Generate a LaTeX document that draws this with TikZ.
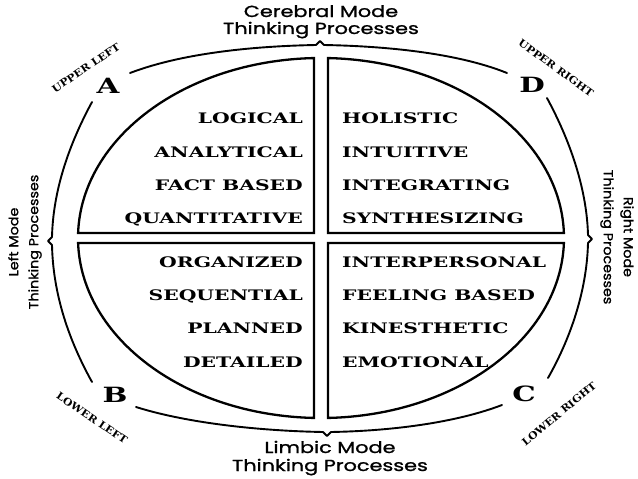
\documentclass[tikz,border=0pt]{standalone}
\usepackage{fontspec}
\newfontfamily\wordfont[FakeStretch=1.4]{DejaVu Serif}
\newfontfamily\labfont[FakeStretch=1.3,FakeBold=1.2]{Poppins}
\newfontfamily\sidefont[FakeStretch=1.1,FakeBold=1.2]{Poppins}
\newfontfamily\cornerfont[FakeStretch=1.1]{DejaVu Serif}
\begin{document}
\begin{tikzpicture}[x=1pt,y=-1pt,
  quad/.style={line width=2.3pt, line join=miter},
  bracecurve/.style={line width=1.9pt, line cap=round, line join=round},
  lword/.style={font=\wordfont\bfseries\fontsize{14.5}{15}\selectfont, anchor=base east, inner sep=0pt},
  rword/.style={font=\wordfont\bfseries\fontsize{14.5}{15}\selectfont, anchor=base west, inner sep=0pt},
  letter/.style={font=\wordfont\bfseries\fontsize{21}{21}\selectfont, inner sep=0pt},
  modelab/.style={font=\labfont\fontsize{16}{17}\selectfont, inner sep=0pt, anchor=base},
  sidelab/.style={font=\sidefont\fontsize{13}{20}\selectfont, inner sep=0pt, align=center},
  cornerlab/.style={font=\cornerfont\bfseries\fontsize{10}{10}\selectfont, inner sep=0pt}]
\useasboundingbox (0,0) rectangle (638,479);
\fill[white] (0,0) rectangle (638,479);

% quadrants
\draw[quad] (314,58.07) arc[start angle=268.349, end angle=181.592, x radius=243, y radius=180] -- (314,233) -- cycle;
\draw[quad] (328,58.07) arc[start angle=271.651, end angle=358.408, x radius=243, y radius=180] -- (328,233) -- cycle;
\draw[quad] (328,417.93) arc[start angle=88.349, end angle=1.592, x radius=243, y radius=180] -- (328,243) -- cycle;
\draw[quad] (314,417.93) arc[start angle=91.651, end angle=178.408, x radius=243, y radius=180] -- (314,243) -- cycle;

% braces
\draw[bracecurve] (130,73) .. controls (185,52) and (260,46) .. (316,45) -- (320,41) -- (324,45) .. controls (380,46) and (455,52) .. (507,73);
\draw[bracecurve] (92,102) .. controls (66,150) and (53,195) .. (52,237) -- (48,241) -- (52,245) .. controls (53,290) and (66,335) .. (92,382);
\draw[bracecurve] (547,98) .. controls (574,148) and (587,195) .. (588,235) -- (592,239) -- (588,243) .. controls (587,285) and (574,332) .. (548,378);
\draw[bracecurve] (136,407) .. controls (190,424) and (265,431) .. (323,432) -- (327,436) -- (331,432) .. controls (390,431) and (455,423) .. (502,405);

% words
\node[lword] (w1) at (303,123) {LOGICAL};
\node[lword] (w2) at (303,157) {ANALYTICAL};
\node[lword] (w3) at (303,190) {FACT BASED};
\node[lword] (w4) at (303,223) {QUANTITATIVE};
\node[lword] (w5) at (303,267) {ORGANIZED};
\node[lword] (w6) at (303,300) {SEQUENTIAL};
\node[lword] (w7) at (303,333) {PLANNED};
\node[lword] (w8) at (303,367) {DETAILED};
\node[rword] (v1) at (342,123) {HOLISTIC};
\node[rword] (v2) at (342,157) {INTUITIVE};
\node[rword] (v3) at (342,190) {INTEGRATING};
\node[rword] (v4) at (342,223) {SYNTHESIZING};
\node[rword] (v5) at (342,267) {INTERPERSONAL};
\node[rword] (v6) at (342,300) {FEELING BASED};
\node[rword] (v7) at (342,333) {KINESTHETIC};
\node[rword] (v8) at (342,367) {EMOTIONAL};

% letters
\node[letter] (la) at (108,86) {A};
\node[letter] (ld) at (532,85) {D};
\node[letter] (lb) at (115,395) {B};
\node[letter] (lc) at (524,394) {C};

% mode labels
\node[modelab] (t1) at (321,17) {Cerebral Mode};
\node[modelab] (t2) at (321,34) {Thinking Processes};
\node[modelab] (b1) at (330,453) {Limbic Mode};
\node[modelab] (b2) at (330,471) {Thinking Processes};
\node[sidelab, rotate=90] (sl) at (25,242) {Left Mode\\Thinking Processes};
\node[sidelab, rotate=-90] (sr) at (617,237) {Right Mode\\Thinking Processes};

% corner labels
\node[cornerlab, rotate=34] (ul) at (86,68) {UPPER LEFT};
\node[cornerlab, rotate=-36] (ur) at (556,68) {UPPER RIGHT};
\node[cornerlab, rotate=-34] (ll) at (92,418) {LOWER LEFT};
\node[cornerlab, rotate=40] (lr) at (559,414) {LOWER RIGHT};
\end{tikzpicture}
\end{document}
